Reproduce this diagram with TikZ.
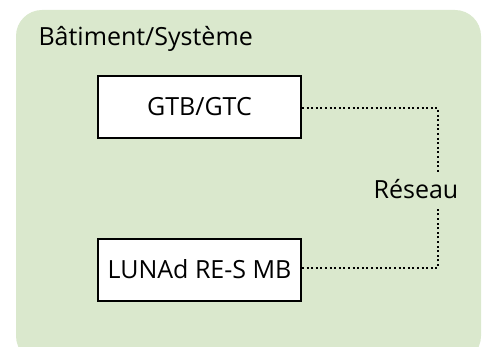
\documentclass[tikz,border=0pt]{standalone}
\usepackage{fontspec}
\setmainfont{Open Sans}
\usetikzlibrary{calc}
\definecolor{bgreen}{RGB}{218,232,205}

\begin{document}
\begin{tikzpicture}[x=1pt, y=-1pt,
		unit/.style={draw, line width=2pt, fill=white, minimum width=203pt, minimum height=62pt, inner sep=0pt, text height=18pt, text depth=0pt},
		link/.style={line width=2pt, dash pattern=on 2pt off 2.6pt}]
		\useasboundingbox (0, 0) rectangle (487, 347);
		\begin{scope}
			\clip (0, 0) rectangle (487, 347);
			\fill[bgreen, rounded corners=26pt] (16, 10) rectangle (481, 362);
		\end{scope}

		\coordinate (c1) at (438, 108);
		\coordinate (c2) at (438, 268);

		\node[anchor=base west, font=\fontsize{25}{30}\selectfont] (title) at (35, 46) {Bâtiment/Système};
		\node[unit, font=\fontsize{25}{30}\selectfont] (gtb) at (199.5, 107) {GTB/GTC};
		\node[unit, font=\fontsize{25}{30}\selectfont] (luna) at (199.5, 270) {LUNAd RE-S MB};
		\node[inner sep=0pt, minimum height=34pt, text height=18pt, text depth=0pt, font=\fontsize{25}{30}\selectfont] (net) at (416, 190) {Réseau};

		\draw[link] (gtb.east |- c1) -- (c1) -- (c1 |- net.north);
		\draw[link] (luna.east |- c2) -- (c2) -- (c2 |- net.south);
	\end{tikzpicture}
\end{document}
